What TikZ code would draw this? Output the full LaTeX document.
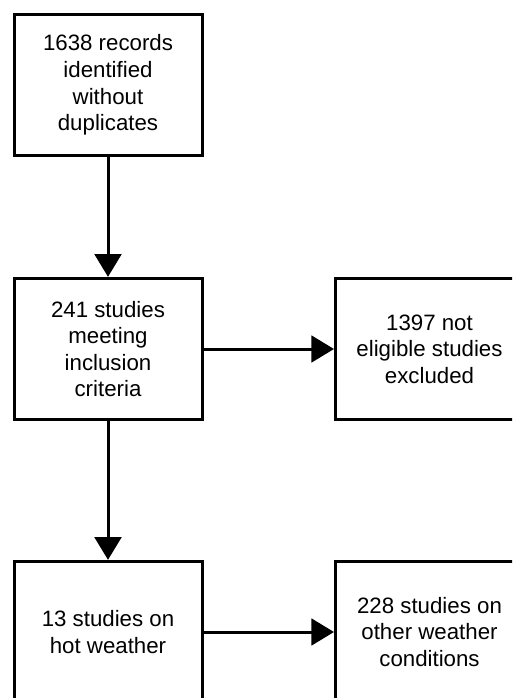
\documentclass[tikz,border=0pt]{standalone}
\usepackage{fontspec}
\setmainfont{Liberation Sans}
\usetikzlibrary{arrows.meta}

\tikzset{
	stagebox/.style={draw=black, line width=2.25pt, rectangle, minimum width=141pt, minimum height=106pt, align=center, inner sep=0pt, font=\fontsize{16.7}{19.9}\selectfont},
	flowarrow/.style={line width=2.25pt, -{Triangle[width=20pt, length=17pt]}}
}

\begin{document}
\begin{tikzpicture}[x=0.75pt, y=-0.75pt]

			\useasboundingbox (0,0) rectangle (512,698);
			\clip (0,0) rectangle (512,698);

			\node[stagebox] (records) at (108,85) {1638 records\\identified\\without\\duplicates};
			\node[stagebox] (meeting) at (108,349) {241 studies\\meeting\\inclusion\\criteria};
			\node[stagebox] (excluded) at (429.5,349) {1397 not\\eligible studies\\excluded};
			\node[stagebox] (hot) at (108,632) {13 studies on\\hot weather};
			\node[stagebox] (other) at (429.5,632) {228 studies on\\other weather\\conditions};

			\draw[flowarrow] (records) -- (meeting);
			\draw[flowarrow] (meeting) -- (excluded);
			\draw[flowarrow] (meeting) -- (hot);
			\draw[flowarrow] (hot) -- (other);

	\end{tikzpicture}
\end{document}
